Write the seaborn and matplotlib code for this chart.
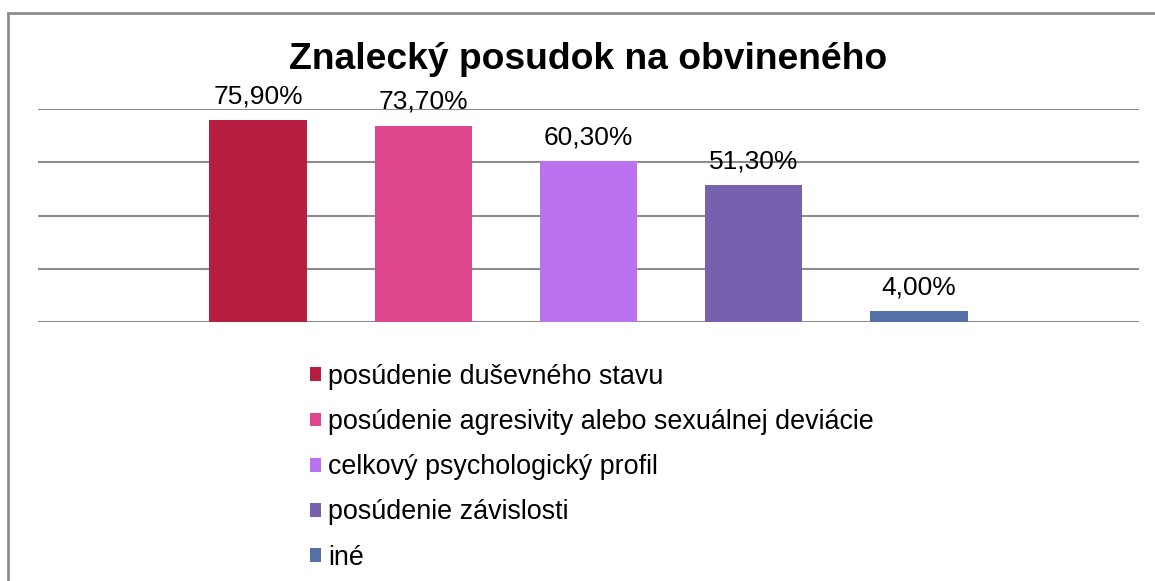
import matplotlib
matplotlib.use("Agg")
import matplotlib.pyplot as plt
import matplotlib.patches as mpatches
import pandas as pd
import seaborn as sns

# data
categories = [
    "posúdenie duševného stavu",
    "posúdenie agresivity alebo sexuálnej deviácie",
    "celkový psychologický profil",
    "posúdenie závislosti",
    "iné",
]
values = [75.9, 73.7, 60.3, 51.3, 4.0]
colors = ["#B71E42", "#DE478E", "#BB72EF", "#7760AE", "#5470A7"]
title = "Znalecký posudok na obvineného"

df = pd.DataFrame({"kategoria": categories, "podiel": values})

sns.set_theme(style="white")
plt.rcParams["font.family"] = ["Liberation Sans", "DejaVu Sans"]
plt.rcParams["text.color"] = "black"

fig = plt.figure(figsize=(11.55, 5.81), dpi=100)
ax = fig.add_axes([38 / 1155, 1 - 322 / 581, 1101 / 1155, 213 / 581])

sns.barplot(data=df, x="kategoria", y="podiel", hue="kategoria",
            palette=colors, width=0.59, saturation=1, linewidth=0,
            ax=ax, legend=True)

ax.set_ylim(0, 80)
ax.set_xlim(-1.333, 5.333)
ax.set_yticks([0, 20, 40, 60, 80])
ax.yaxis.grid(True, color="#8c8c8c", linewidth=1.5)
ax.set_axisbelow(True)
ax.set_xticks([])
ax.tick_params(left=False, labelleft=False)
ax.set_xlabel("")
ax.set_ylabel("")
for s in ax.spines.values():
    s.set_visible(False)

# value labels, decimal comma
for cont in ax.containers:
    ax.bar_label(cont, labels=[f"{v:.2f}%".replace(".", ",") for v in cont.datavalues],
                 padding=8.5, fontsize=19, color="black")

ax.set_title(title, fontsize=26.8, fontweight="bold", pad=29, color="black")

sns.move_legend(ax, loc="upper left", bbox_to_anchor=(310 / 1155, 1 - 364 / 581),
                bbox_transform=fig.transFigure, frameon=False, title=None,
                fontsize=19.4, handlelength=0.42, handleheight=0.42,
                handletextpad=0.24, labelspacing=0.71, borderpad=0,
                borderaxespad=0, labelcolor="black")

# outer chart frame (cropped on the right and bottom)
fig.patches.append(mpatches.Rectangle((8 / 1155, -0.1), 1.2, 1.1 - 13 / 581,
                                      transform=fig.transFigure, fill=False,
                                      edgecolor="#8c8c8c", linewidth=2))

fig.savefig("out.png", dpi=100)
